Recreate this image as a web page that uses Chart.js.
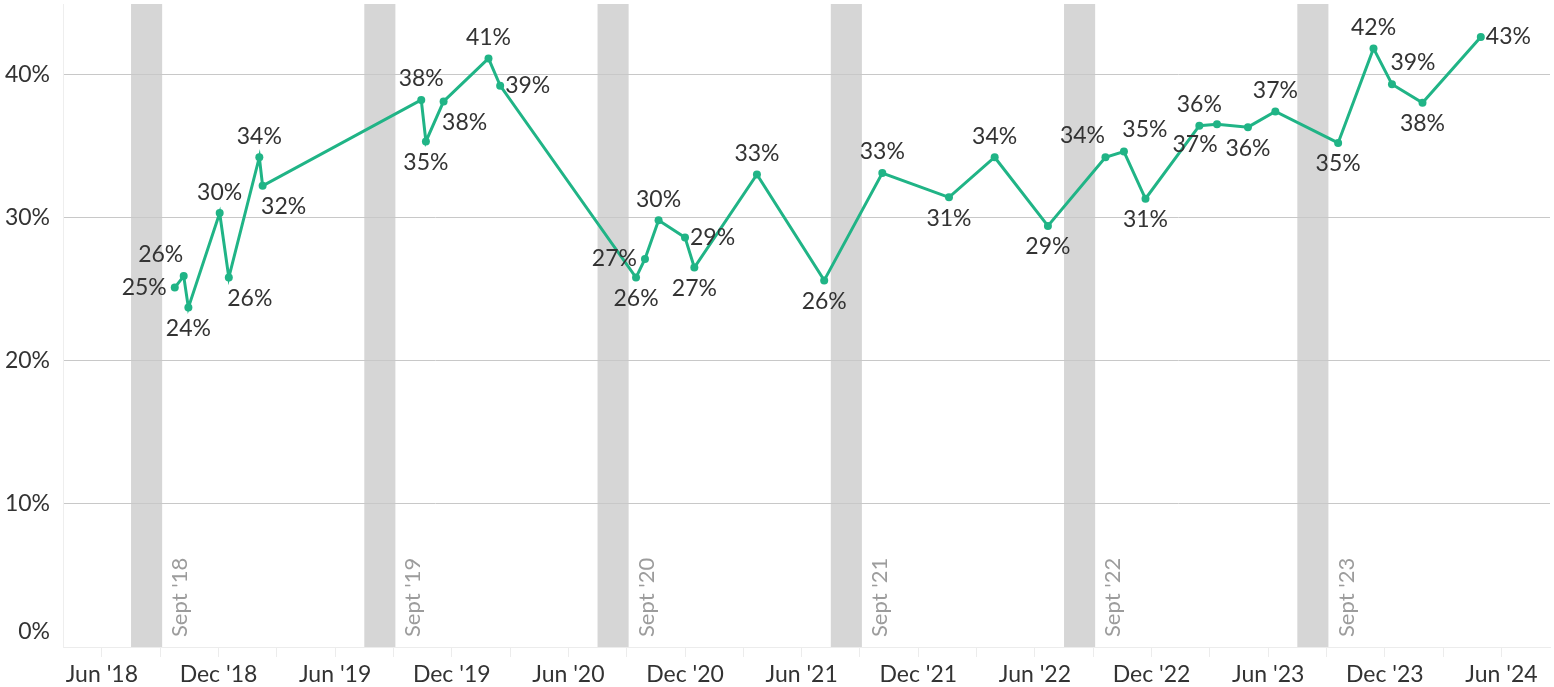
<!DOCTYPE html>
<html>
<head>
<meta charset="utf-8">
<script src="https://cdn.jsdelivr.net/npm/chart.js@4.4.1/dist/chart.umd.min.js"></script>
<style>
  html, body { margin: 0; padding: 0; background: #fff; }
  #wrap { width: 1554px; height: 687px; }
</style>
</head>
<body>
<div id="wrap"><canvas id="ch"></canvas></div>
<script>
// x = months counted from Jan '18 (0 = Jan '18, 5 = Jun '18 ...)
const surveyMonths = [8.75, 9.21, 9.45, 11.06, 11.53, 13.1, 13.27,
  21.43, 21.67, 22.58, 24.89, 25.49,
  32.48, 32.94, 33.64, 35.0, 35.48, 38.7, 42.16, 45.15, 48.58, 50.93, 53.67,
  56.63, 57.58, 58.69, 61.46, 62.37, 63.96, 65.37, 68.6, 70.42, 71.37, 72.94, 75.94];
const shareValues = [25.1, 25.9, 23.7, 30.3, 25.8, 34.2, 32.2,
  38.2, 35.3, 38.1, 41.1, 39.2,
  25.8, 27.1, 29.8, 28.6, 26.5, 33.0, 25.6, 33.1, 31.4, 34.2, 29.4,
  34.2, 34.6, 31.3, 36.4, 36.5, 36.3, 37.4, 35.2, 41.8, 39.3, 38.0, 42.6];
// where each value label sits relative to its point
const labelSpots = ['left', 'tl', 'bottom', 'top', 'br', 'top', 'br',
  'top', 'bottom', 'br', 'top', 'right',
  'bottom', 'left', 'top', 'right', 'bottom', 'top', 'bottom', 'top', 'bottom', 'top', 'bottom',
  'tl', 'tr', 'bottom', 'top', 'bl', 'bottom', 'top', 'bottom', 'top', 'tr', 'bottom', 'right'];

// shaded September periods
const seasonNames = ["Sept '18", "Sept '19", "Sept '20", "Sept '21", "Sept '22", "Sept '23"];
const seasonStart = [6.5, 18.5, 30.5, 42.5, 54.5, 66.5];
const seasonEnd = [8.1, 20.1, 32.1, 44.1, 56.1, 68.1];

const yTicks = [0, 10, 20, 30, 40];
const xTicks = [5, 8, 11, 14, 17, 20, 23, 26, 29, 32, 35, 38, 41, 44, 47, 50, 53, 56, 59, 62, 65, 68, 71, 74, 77];

const GREEN = '#20b486';
const FONT = 'Lato';
Chart.defaults.font.family = FONT;

function monthLabel(v) {
  const m = ((v % 12) + 12) % 12;
  const yr = 18 + Math.floor(v / 12);
  if (m === 5) return "Jun '" + yr;
  if (m === 11) return "Dec '" + yr;
  return '';
}

const bands = {
  id: 'bands',
  beforeDatasetsDraw(chart) {
    const { ctx, chartArea: a, scales: { x } } = chart;
    ctx.save();
    seasonNames.forEach((name, i) => {
      const x0 = x.getPixelForValue(seasonStart[i]);
      const x1 = x.getPixelForValue(seasonEnd[i]);
      ctx.fillStyle = 'rgba(200,200,200,0.75)';
      ctx.fillRect(x0, a.top, x1 - x0, a.bottom - a.top);
      ctx.save();
      ctx.translate(x1 + 18, a.bottom - 10);
      ctx.rotate(-Math.PI / 2);
      ctx.font = '22px ' + FONT;
      ctx.fillStyle = '#9c9c9c';
      ctx.textAlign = 'left';
      ctx.textBaseline = 'middle';
      ctx.fillText(name, 0, 0);
      ctx.restore();
    });
    ctx.restore();
  }
};

const spotOffsets = {
  top: [0, -21, 'center'],
  bottom: [0, 21, 'center'],
  left: [-8, 0, 'right'],
  right: [5, 0, 'left'],
  tl: [-23, -22, 'center'],
  tr: [21, -22, 'center'],
  bl: [-22, 20, 'center'],
  br: [21, 21, 'center']
};

const valueLabels = {
  id: 'valueLabels',
  afterDatasetsDraw(chart) {
    const { ctx } = chart;
    const meta = chart.getDatasetMeta(0);
    ctx.save();
    ctx.font = '23px ' + FONT;
    ctx.fillStyle = '#333';
    ctx.textBaseline = 'middle';
    meta.data.forEach((pt, i) => {
      const o = spotOffsets[labelSpots[i]];
      ctx.textAlign = o[2];
      ctx.fillText(Math.round(shareValues[i]) + '%', pt.x + o[0], pt.y + o[1]);
    });
    ctx.restore();
  }
};

const yLabels = {
  id: 'yLabels',
  afterDraw(chart) {
    const { ctx, chartArea: a, scales: { y } } = chart;
    ctx.save();
    ctx.font = '23px ' + FONT;
    ctx.fillStyle = '#333';
    ctx.textAlign = 'right';
    ctx.textBaseline = 'middle';
    yTicks.forEach(v => {
      let py = y.getPixelForValue(v);
      if (v === 0) py -= 15;
      ctx.fillText(v + '%', a.left - 13, py);
    });
    ctx.restore();
  }
};

new Chart(document.getElementById('ch'), {
  type: 'line',
  data: {
    datasets: [{
      data: surveyMonths.map((m, i) => ({ x: m, y: shareValues[i] })),
      borderColor: GREEN,
      backgroundColor: GREEN,
      borderWidth: 3,
      pointRadius: 4,
      pointBackgroundColor: GREEN,
      pointBorderWidth: 0,
      tension: 0
    }]
  },
  options: {
    responsive: true,
    maintainAspectRatio: false,
    devicePixelRatio: 1,
    animation: false,
    events: [],
    layout: { padding: { top: 3, right: 2, left: 0, bottom: 0 } },
    plugins: { legend: { display: false }, tooltip: { enabled: false } },
    scales: {
      x: {
        type: 'linear',
        min: 3,
        max: 79.5,
        afterBuildTicks: s => { s.ticks = xTicks.map(v => ({ value: v })); },
        afterFit: s => { s.height = 40; },
        ticks: {
          autoSkip: false,
          maxRotation: 0,
          padding: 4,
          color: '#333',
          font: { size: 23 },
          callback: v => monthLabel(v)
        },
        grid: { drawOnChartArea: false, tickLength: 10, color: '#ececec' },
        border: { color: '#ececec' }
      },
      y: {
        min: 0,
        max: 44.9,
        afterBuildTicks: s => { s.ticks = yTicks.map(v => ({ value: v })); },
        afterFit: s => { s.width = 63; },
        ticks: { display: false },
        grid: {
          drawTicks: false,
          color: c => (c.tick && c.tick.value === 0) ? 'rgba(0,0,0,0)' : '#c8c8c8'
        },
        border: { color: '#eeeeee' }
      }
    }
  },
  plugins: [bands, valueLabels, yLabels]
});
</script>
</body>
</html>
